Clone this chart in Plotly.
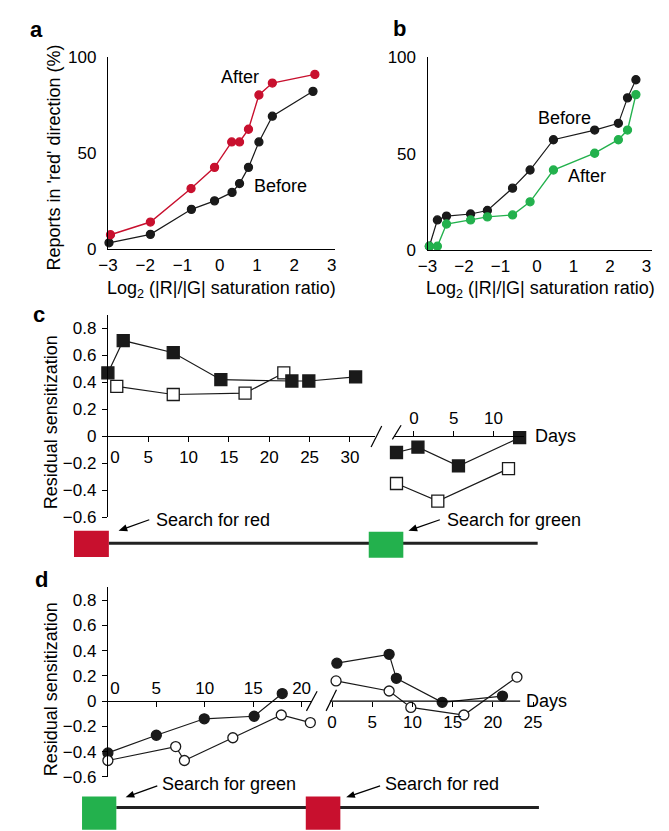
import math
import plotly.graph_objects as go

# ---------------- data ----------------
# panel a (Log2 ratio, % reports in 'red' direction)
a_x_after = [-2.93, -1.86, -0.77, -0.14, 0.32, 0.53, 0.77, 1.05, 1.41, 2.55]
a_after = [7.6, 14.2, 31.6, 42.6, 55.8, 55.8, 62.4, 80.2, 86.4, 90.9]
a_x_before = [-2.97, -1.86, -0.76, -0.14, 0.33, 0.53, 0.77, 1.05, 1.41, 2.50]
a_before = [3.4, 7.8, 20.8, 25.2, 29.6, 34.2, 42.6, 55.8, 69.2, 82.1]

# panel b
b_x = [-2.95, -2.73, -2.48, -1.82, -1.36, -0.67, -0.19, 0.45, 1.58, 2.23, 2.48, 2.71]
b_before = [2.0, 15.6, 17.6, 18.7, 20.5, 32.1, 41.5, 57.2, 62.2, 65.7, 78.9, 88.3]
b_after = [2.0, 2.0, 13.5, 15.6, 17.2, 18.2, 25.0, 41.5, 50.2, 57.2, 62.2, 80.6]

# panel c (days, residual sensitization)
c1_filled_days = [0.0, 1.9, 8.1, 14.0, 22.8, 24.9, 30.7]
c1_filled = [0.47, 0.71, 0.62, 0.42, 0.41, 0.41, 0.44]
c1_open_days = [1.1, 8.1, 17.0, 21.8]
c1_open = [0.37, 0.31, 0.32, 0.47]
c2_filled_days = [-2.2, 0.5, 5.6, 13.3]
c2_filled = [-0.12, -0.08, -0.22, -0.01]
c2_open_days = [-2.2, 3.0, 11.9]
c2_open = [-0.35, -0.48, -0.24]

# panel d
d1_filled_days = [0.0, 5.0, 9.95, 15.1, 18.0]
d1_filled = [-0.41, -0.27, -0.14, -0.12, 0.06]
d1_open_days = [0.0, 7.0, 7.9, 12.9, 17.9, 20.9]
d1_open = [-0.47, -0.36, -0.47, -0.29, -0.11, -0.17]
d2_filled_days = [0.6, 7.1, 8.0, 13.7, 21.2]
d2_filled = [0.30, 0.37, 0.18, -0.01, 0.04]
d2_open_days = [0.5, 7.1, 9.8, 16.4, 23.0]
d2_open = [0.16, 0.08, -0.05, -0.11, 0.19]

ab_ticks = [-3, -2, -1, 0, 1, 2, 3]
pct_ticks = [0, 50, 100]
sens_ticks = [-0.6, -0.4, -0.2, 0, 0.2, 0.4, 0.6, 0.8]
sens_labels = ["\u22120.6", "\u22120.4", "\u22120.2", "0", "0.2", "0.4", "0.6", "0.8"]

# ---------------- style ----------------
W, H = 669, 831
FONT = "Liberation Sans, Arial, Helvetica, sans-serif"
RED = "#c8102e"
GREEN = "#23b14d"
BLK = "#1a1a1a"


def fx(px):
    return px / W


def fy(py):
    return 1 - py / H


fig = go.Figure()


def line_trace(x, y, xa, ya, color, size, symbol="circle", fill=None, lw=1.2):
    fig.add_trace(go.Scatter(
        x=x, y=y, xaxis=xa, yaxis=ya, mode="lines+markers",
        line=dict(color=BLK if fill is not None else color, width=lw),
        marker=dict(symbol=symbol, size=size,
                    color=fill if fill is not None else color,
                    line=dict(color=BLK if fill is not None else color, width=1.3)),
        cliponaxis=False, hoverinfo="x+y"))


# panel a
line_trace(a_x_before, a_before, "x", "y", BLK, 8)
line_trace(a_x_after, a_after, "x", "y", RED, 8, lw=1.4)
# panel b
line_trace(b_x, b_before, "x2", "y2", BLK, 8)
line_trace(b_x, b_after, "x2", "y2", GREEN, 8, lw=1.4)
# panel c
line_trace(c1_open_days, c1_open, "x3", "y3", BLK, 12, "square", fill="white")
line_trace(c1_filled_days, c1_filled, "x3", "y3", BLK, 12, "square")
line_trace(c2_open_days, c2_open, "x4", "y3", BLK, 12, "square", fill="white")
line_trace(c2_filled_days, c2_filled, "x4", "y3", BLK, 12, "square")
# panel d
line_trace(d1_filled_days, d1_filled, "x5", "y5", BLK, 10)
line_trace(d1_open_days, d1_open, "x5", "y5", BLK, 10, fill="white")
line_trace(d2_filled_days, d2_filled, "x6", "y5", BLK, 10)
line_trace(d2_open_days, d2_open, "x6", "y5", BLK, 10, fill="white")

tickfont = dict(size=17, family=FONT, color="black")
base = dict(showgrid=False, zeroline=False, showline=True, linecolor="black",
            linewidth=1.2, tickfont=tickfont, tickcolor="black", tickwidth=1.2,
            fixedrange=True)

layout_axes = dict(
    xaxis=dict(base, domain=[fx(99), fx(333)], range=[-3, 3.078], anchor="y",
               tickvals=ab_ticks, ticks="", ticklabelstandoff=0),
    yaxis=dict(base, domain=[fy(246), fy(49)], range=[0, 100], anchor="x",
               tickvals=pct_ticks, ticks="", ticklabelstandoff=7),
    xaxis2=dict(base, domain=[fx(429), fx(660.7)], range=[-3, 3.15], anchor="y2",
                tickvals=ab_ticks, ticks="", ticklabelstandoff=0),
    yaxis2=dict(base, domain=[fy(246.7), fy(49.3)], range=[0, 100], anchor="x2",
                tickvals=pct_ticks, ticks="", ticklabelstandoff=7),
    yaxis3=dict(base, domain=[fy(520.1), fy(313.1)], range=[-0.6, 0.9], anchor="x3",
                tickvals=sens_ticks, ticktext=sens_labels, ticks="outside", ticklen=5,
                ticklabelstandoff=2),
    xaxis3=dict(base, domain=[fx(99), fx(375)], range=[0, 33.13], anchor="free",
                position=fy(437.3), side="bottom", ticks="outside", ticklen=5,
                tickvals=[0, 5, 10, 15, 20, 25, 30],
                ticktext=["\u00a0\u00a0\u00a00", "5", "10", "15", "20", "25", "30"]),
    xaxis4=dict(base, domain=[fx(394), fx(529)], range=[-2.56, 13.9], anchor="free",
                position=fy(437.3), side="top", ticks="outside", ticklen=5,
                tickvals=[0, 5, 10]),
    yaxis5=dict(base, domain=[fy(785.9), fy(591.9)], range=[-0.6, 0.9], anchor="x5",
                tickvals=sens_ticks, ticktext=sens_labels, ticks="outside", ticklen=5,
                ticklabelstandoff=2),
    xaxis5=dict(base, domain=[fx(99), fx(310)], range=[0, 21.1], anchor="free",
                position=fy(708.3), side="top", ticks="inside", ticklen=5,
                tickvals=[0, 5, 10, 15, 20],
                ticktext=["\u00a0\u00a0\u00a00", "5", "10", "15", "20"]),
    xaxis6=dict(base, domain=[fx(328), fx(538.5)], range=[-0.29, 25.07], anchor="free",
                position=fy(708.3), side="bottom", ticks="outside", ticklen=5,
                showline=False, tickvals=[0, 5, 10, 15, 20, 25]),
)

shapes = []
# axis line for the second segment of panel d (stops before "Days")
shapes.append(dict(type="line", xref="x6", yref="y5", x0=-0.29, x1=23.4, y0=0, y1=0,
                   line=dict(color="black", width=1.2)))


def pline(x0, y0, x1, y1, w=1.2, color="black"):
    shapes.append(dict(type="line", xref="paper", yref="paper",
                       x0=fx(x0), y0=fy(y0), x1=fx(x1), y1=fy(y1),
                       line=dict(color=color, width=w)))


def prect(x0, y0, x1, y1, color):
    shapes.append(dict(type="rect", xref="paper", yref="paper",
                       x0=fx(x0), y0=fy(y0), x1=fx(x1), y1=fy(y1),
                       fillcolor=color, line=dict(width=0)))


def parrow(tx, ty, hx, hy, hl=9.0, hw=3.6):
    dx, dy = hx - tx, hy - ty
    n = math.hypot(dx, dy)
    ux, uy = dx / n, dy / n
    bx, by = hx - ux * hl, hy - uy * hl
    pline(tx, ty, bx + ux * 1.0, by + uy * 1.0, w=1.3)
    p1 = (bx - uy * hw, by + ux * hw)
    p2 = (bx + uy * hw, by - ux * hw)
    path = "M {} {} L {} {} L {} {} Z".format(fx(hx), fy(hy), fx(p1[0]), fy(p1[1]),
                                             fx(p2[0]), fy(p2[1]))
    shapes.append(dict(type="path", xref="paper", yref="paper", path=path,
                       fillcolor="black", line=dict(width=0)))


# axis breaks
pline(370.7, 448.3, 381.7, 426.7)
pline(392.7, 440.5, 401.7, 426.0)
pline(304, 718.3, 315, 698.3)
pline(324.3, 718.3, 335, 696.7)

# timelines
pline(100, 546.7, 542.7, 546.7, w=3, color="#222222")
prect(64, 534, 100, 560.7, RED)
prect(368.3, 535, 404, 561.7, GREEN)
pline(107.7, 817.3, 544, 817.3, w=3, color="#222222")
prect(72.3, 806, 107.7, 840, GREEN)
prect(303.3, 806, 339, 840, RED)

# timeline arrows
parrow(141.7, 522.7, 110, 534)
parrow(441.7, 522.7, 409.3, 534)
parrow(150, 795, 117.3, 806.7)
parrow(380, 795, 345, 806.7)

ann = []


def ptext(x, y, text, size=18, xanchor="center", bold=False, angle=0):
    ann.append(dict(xref="paper", yref="paper", x=fx(x), y=fy(y), text=text,
                    showarrow=False, xanchor=xanchor, yanchor="middle",
                    textangle=angle,
                    font=dict(size=size, family=FONT, color="black",
                              weight="bold" if bold else "normal")))


# panel letters
ptext(25, 21, "a", size=22, bold=True)
ptext(400, 20, "b", size=22, bold=True)
ptext(27.5, 313, "c", size=22, bold=True)
ptext(30.7, 584, "d", size=22, bold=True)

# axis titles
ptext(43.3, 152, "Reports in 'red' direction (%)", angle=-90)
ptext(216, 287, "Log<sub>2</sub> (|R|/|G| saturation ratio)")
ptext(546, 287, "Log<sub>2</sub> (|R|/|G| saturation ratio)")
ptext(39.7, 422.5, "Residual sensitization", angle=-90)
ptext(40.5, 696, "Residual sensitization", angle=-90)
ptext(537.5, 437.5, "Days", xanchor="left")
ptext(529, 708.3, "Days", xanchor="left")

# curve labels
ann.append(dict(xref="x", yref="y", x=0.53, y=89.7, text="After", showarrow=False,
                font=dict(size=18, family=FONT, color="black")))
ann.append(dict(xref="x", yref="y", x=1.62, y=33.1, text="Before", showarrow=False,
                font=dict(size=18, family=FONT, color="black")))
ann.append(dict(xref="x2", yref="y2", x=0.74, y=68.7, text="Before", showarrow=False,
                font=dict(size=18, family=FONT, color="black")))
ann.append(dict(xref="x2", yref="y2", x=1.38, y=38.5, text="After", showarrow=False,
                font=dict(size=18, family=FONT, color="black")))

# timeline texts
ptext(146.7, 522.7, "Search for red", xanchor="left")
ptext(446.7, 522.7, "Search for green", xanchor="left")
ptext(152.7, 793.3, "Search for green", xanchor="left")
ptext(383.3, 793.3, "Search for red", xanchor="left")

fig.update_layout(
    width=W, height=H, margin=dict(l=0, r=0, t=0, b=0),
    paper_bgcolor="white", plot_bgcolor="white", showlegend=False,
    font=dict(family=FONT, size=17, color="black"),
    shapes=shapes, annotations=ann, **layout_axes)

fig.write_html("out.html", config={"displayModeBar": False},
               post_script="document.body.style.margin='0px';"
                           "document.body.style.overflow='hidden';")
